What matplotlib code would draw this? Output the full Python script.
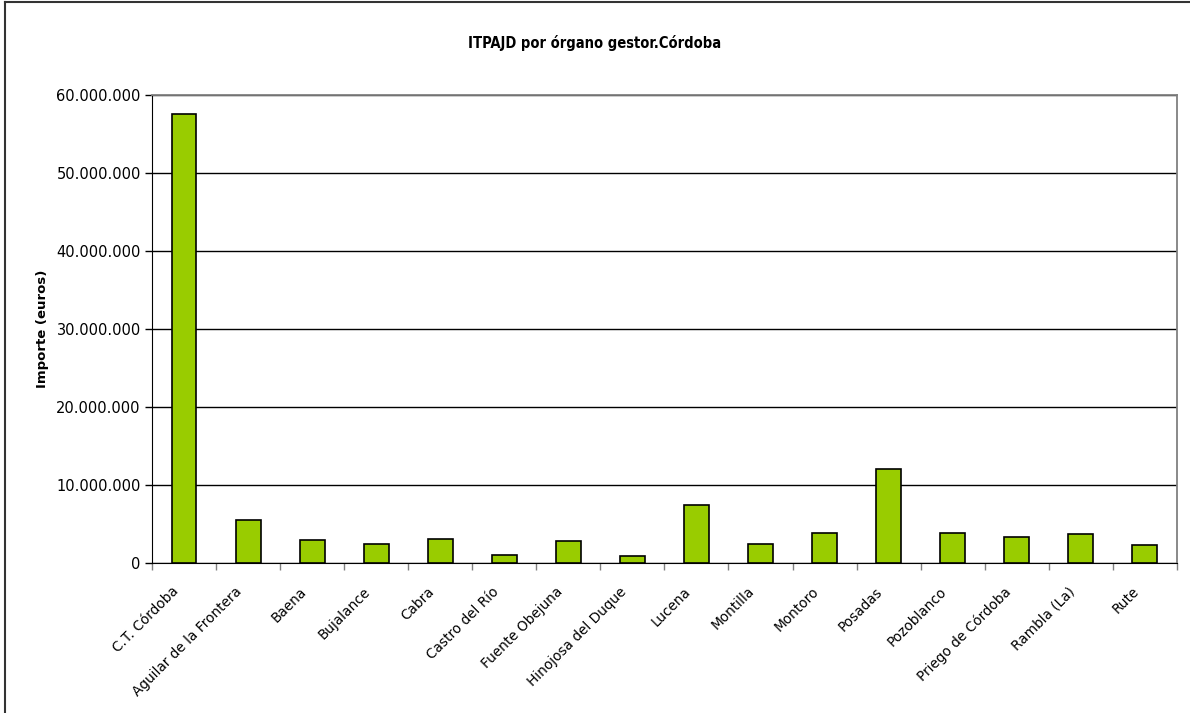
import matplotlib
matplotlib.use("Agg")
import matplotlib.pyplot as plt
import matplotlib.transforms as mtransforms
from matplotlib.ticker import FuncFormatter, MultipleLocator
from matplotlib.lines import Line2D

# organos gestores de Cordoba
oficinas = ["C.T. Córdoba", "Aguilar de la Frontera", "Baena", "Bujalance", "Cabra",
            "Castro del Río", "Fuente Obejuna", "Hinojosa del Duque", "Lucena", "Montilla",
            "Montoro", "Posadas", "Pozoblanco", "Priego de Córdoba", "Rambla (La)", "Rute"]

# importe en euros
importe = [57600000, 5620000, 3070000, 2550000, 3140000,
           1060000, 2940000, 980000, 7490000, 2510000,
           3960000, 12040000, 3910000, 3360000, 3790000, 2380000]

fig = plt.figure(figsize=(11.9, 7.13), dpi=100)
ax = fig.add_axes([0.1277, 0.2097, 0.8613, 0.6571])

x = list(range(len(oficinas)))
ax.bar(x, importe, width=0.39, color="#99CC00", edgecolor="black", linewidth=1.2, zorder=3)

ax.set_xlim(-0.5, len(oficinas) - 0.5)
ax.set_ylim(0, 60000000)
ax.yaxis.set_major_locator(MultipleLocator(10000000))
ax.yaxis.set_major_formatter(FuncFormatter(lambda v, p: "{:,.0f}".format(v).replace(",", ".")))
ax.yaxis.grid(True, color="black", linewidth=1, zorder=0)

# ticks entre categorias
ax.set_xticks([i - 0.5 for i in range(len(oficinas) + 1)])
ax.set_xticklabels([])
ax.set_xticks(x, minor=True)
ax.set_xticklabels(oficinas, minor=True, rotation=45, ha="right", rotation_mode="anchor", fontsize=9.8)
ax.tick_params(axis="x", which="minor", length=0, pad=15)
ax.tick_params(axis="x", which="major", length=5, width=1, color="#808080", direction="out")
ax.tick_params(axis="y", length=5, width=1, labelsize=10.5, pad=3)

# mover etiquetas un poco a la izquierda
desplaza = mtransforms.ScaledTranslation(-13 / 100, 0, fig.dpi_scale_trans)
for lbl in ax.get_xticklabels(minor=True):
    lbl.set_transform(lbl.get_transform() + desplaza)

ax.spines["top"].set_color("#808080")
ax.spines["right"].set_color("#808080")
ax.spines["top"].set_linewidth(1.3)
ax.spines["right"].set_linewidth(1.3)

ax.set_ylabel("Importe (euros)", fontsize=9.5, fontweight="bold", labelpad=5)
fig.text(0.5, 0.94, "ITPAJD por órgano gestor.Córdoba", ha="center", va="center",
         fontsize=10.5, fontweight="bold", fontstretch="condensed")

# marco del grafico (solo arriba e izquierda)
fig.add_artist(Line2D([0.0045, 1.0], [0.997, 0.997], color="#333333", linewidth=1.5))
fig.add_artist(Line2D([0.0045, 0.0045], [0.0, 0.997], color="#333333", linewidth=1.5))

fig.savefig("out.png", dpi=100)
